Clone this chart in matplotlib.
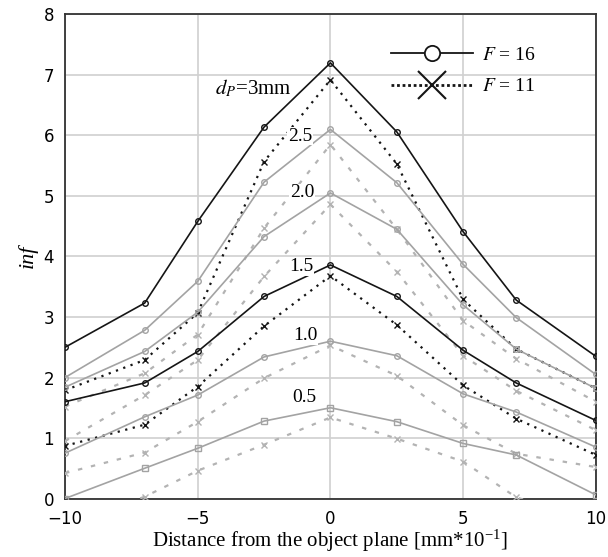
import matplotlib
matplotlib.use("Agg")
import matplotlib.pyplot as plt
from matplotlib.lines import Line2D

plt.rcParams["mathtext.fontset"] = "stix"

# distance from the object plane [mm*10^-1]
x = [-10, -7, -5, -2.5, 0, 2.5, 5, 7, 10]

# inf values for F = 16 (solid lines)
f16_d30 = [2.50, 3.23, 4.58, 6.14, 7.20, 6.06, 4.41, 3.28, 2.35]
f16_d25 = [2.00, 2.78, 3.59, 5.23, 6.10, 5.22, 3.87, 2.99, 2.05]
f16_d20 = [1.84, 2.43, 3.08, 4.33, 5.05, 4.45, 3.20, 2.47, 1.82]
f16_d15 = [1.60, 1.91, 2.43, 3.34, 3.86, 3.34, 2.45, 1.91, 1.29]
f16_d10 = [0.75, 1.35, 1.71, 2.34, 2.60, 2.36, 1.73, 1.43, 0.85]
f16_d05 = [0.00, 0.50, 0.83, 1.28, 1.50, 1.27, 0.91, 0.72, 0.06]

# inf values for F = 11 (dotted lines)
f11_d30 = [1.79, 2.29, 3.07, 5.57, 6.92, 5.53, 3.29, 2.47, 1.82]
f11_d25 = [1.52, 2.07, 2.71, 4.47, 5.85, 4.45, 2.94, 2.31, 1.60]
f11_d20 = [0.95, 1.71, 2.29, 3.67, 4.86, 3.75, 2.36, 1.78, 1.13]
f11_d15 = [0.87, 1.22, 1.85, 2.85, 3.68, 2.87, 1.87, 1.32, 0.72]
f11_d10 = [0.42, 0.76, 1.27, 1.99, 2.53, 2.03, 1.21, 0.74, 0.52]
f11_d05 = [-0.45, 0.03, 0.46, 0.89, 1.34, 0.99, 0.61, 0.02, -0.40]

labels = ["3mm", "2.5", "2.0", "1.5", "1.0", "0.5"]

BLACK = "#151515"
GRAY = "#a3a3a3"
LGRAY = "#b3b3b3"

fig = plt.figure(figsize=(6.08, 5.57), dpi=100)
ax = fig.add_axes([0.107, 0.105, 0.873, 0.869])

solid = [(f16_d30, BLACK, "o"), (f16_d25, GRAY, "o"), (f16_d20, GRAY, "o"),
         (f16_d15, BLACK, "o"), (f16_d10, GRAY, "o"), (f16_d05, GRAY, "s")]
dotted = [(f11_d30, BLACK), (f11_d25, LGRAY), (f11_d20, LGRAY),
          (f11_d15, BLACK), (f11_d10, LGRAY), (f11_d05, LGRAY)]

for y, c in dotted:
    ls = (0, (1, 2.5)) if c == BLACK else (0, (2, 4))
    ax.plot(x, y, color=c, ls=ls, lw=1.6, marker="x", ms=5, mew=1.0, zorder=3)

for y, c, m in solid:
    ax.plot(x, y, color=c, lw=1.2, marker=m, ms=4, mfc="none", mew=1.0, zorder=4)

# curve labels
serif = "Liberation Serif"
ax.text(-2.9, 6.78, r"$d_P$=3mm", family=serif, fontsize=15, ha="center", va="center")
lab_pos = [(-1.15, 5.99), (-1.07, 5.05), (-1.11, 3.83), (-0.96, 2.69), (-1.0, 1.67)]
for lab, (lx, ly) in zip(labels[1:], lab_pos):
    ax.text(lx, ly, lab, family=serif, fontsize=14, ha="center", va="center",
            bbox=dict(fc="white", ec="none", pad=0.5), zorder=5)

ax.set_xlim(-10, 10)
ax.set_ylim(0, 8)
ax.set_xticks([-10, -5, 0, 5, 10])
ax.set_yticks(range(0, 9))
ax.tick_params(length=0, labelsize=12)
ax.tick_params(axis="x", pad=8)
ax.tick_params(axis="y", pad=8)
ax.grid(True, color="#d0d0d0", lw=1.2)
ax.set_axisbelow(True)
for s in ax.spines.values():
    s.set_color("#333333")
    s.set_linewidth(1.3)

ax.set_xlabel(r"Distance from the object plane [mm*10$^{\mathregular{-1}}$]",
              family=serif, fontsize=15, labelpad=0)
ax.set_ylabel("inf", family=serif, style="italic", fontsize=16, labelpad=4)

handles = [
    Line2D([], [], color=BLACK, lw=1.3, marker="o", ms=11, mfc="white", mew=1.3),
    Line2D([], [], color=BLACK, lw=2.0, ls=(0, (1, 1)), marker="x", ms=20, mew=1.5),
]
leg = ax.legend(handles, [r"$F$ = 16", r"$F$ = 11"], loc="upper right",
                bbox_to_anchor=(0.92, 0.97), frameon=False, handlelength=4.2,
                prop={"family": serif, "size": 14}, labelspacing=0.7, handletextpad=0.5)

fig.savefig("out.png", dpi=100)
